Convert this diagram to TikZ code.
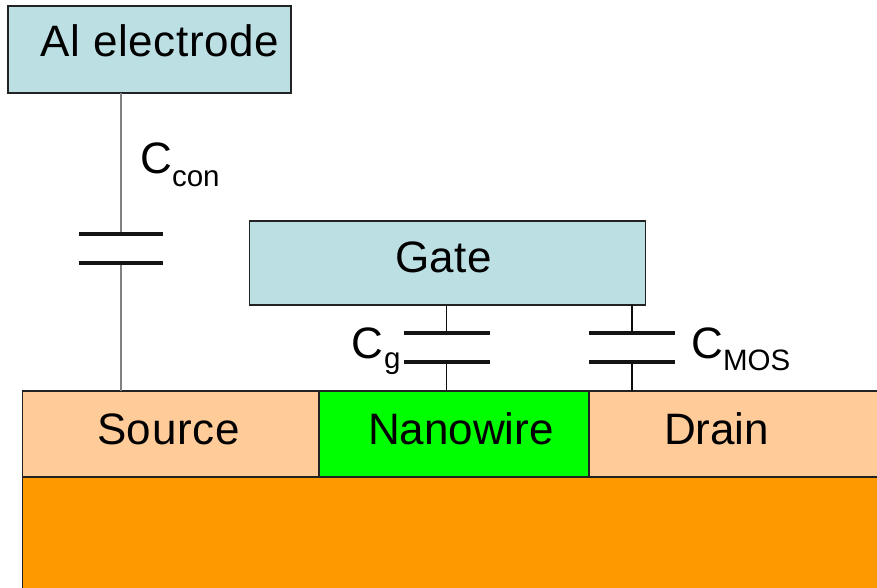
\documentclass[tikz,border=0pt]{standalone}
\usepackage{fontspec}
\setmainfont{Liberation Sans}
\newfontfamily\spaced[LetterSpace=1.4]{Liberation Sans}
\definecolor{boxblue}{HTML}{BBDFE3}
\definecolor{contact}{HTML}{FFCC99}
\definecolor{wire}{HTML}{00FF00}
\definecolor{substrate}{HTML}{FF9900}
\definecolor{edgec}{HTML}{222222}
\newcommand{\bigtxt}{\fontsize{44}{44}\selectfont}
\newcommand{\subtxt}{\fontsize{29.5}{30}\selectfont}
\tikzset{
  x=1pt,y=-1pt,
  block/.style={draw=edgec,line width=1.2pt,inner sep=0pt,outer sep=0pt,anchor=north west},
  lbl/.style={inner sep=0pt,outer sep=0pt,anchor=base west,text=black},
  plate/.style={line width=4pt,black!92},
  lead/.style={line width=1.7pt,black!95},
  greylead/.style={line width=2.8pt,black!50},
}
\newcommand{\capsym}[5]{%
  \coordinate (#1t) at (#2,#4);
  \coordinate (#1b) at (#2,#5);
  \coordinate (#1tl) at (#2-#3,#4);
  \coordinate (#1tr) at (#2+#3,#4);
  \coordinate (#1bl) at (#2-#3,#5);
  \coordinate (#1br) at (#2+#3,#5);
}
\begin{document}
\begin{tikzpicture}
\useasboundingbox (0,0) rectangle (877,588);
\clip (0,0) rectangle (877,588);
\fill[white] (0,0) rectangle (877,588);
\node[block,fill=substrate,minimum width=880pt,minimum height=120pt] (sub) at (22.5,477) {};
\node[block,fill=contact,minimum width=296.5pt,minimum height=86pt] (source) at (22.5,391) {};
\node[block,fill=wire,minimum width=270pt,minimum height=86pt] (wire) at (319,391) {};
\node[block,fill=contact,minimum width=300pt,minimum height=86pt] (drain) at (589,391) {};
\node[block,fill=boxblue,minimum width=283pt,minimum height=87pt] (al) at (8,6) {};
\node[block,fill=boxblue,minimum width=396pt,minimum height=84pt] (gate) at (249.5,221) {};
\capsym{a}{121}{42}{234}{263}
\capsym{g}{446.5}{43}{333}{362}
\capsym{m}{632}{43}{333}{362}
\draw[greylead] (al.south -| at) -- (at);
\draw[greylead] (ab) -- (source.north -| ab);
\draw[lead] (gate.south -| gt) -- (gt);
\draw[lead] (gb) -- (wire.north -| gb);
\draw[lead] (gate.south -| mt) -- (mt);
\draw[lead] (mb) -- (drain.north -| mb);
\draw[plate] (atl) -- (atr);
\draw[plate] (abl) -- (abr);
\draw[plate] (gtl) -- (gtr);
\draw[plate] (gbl) -- (gbr);
\draw[plate] (mtl) -- (mtr);
\draw[plate] (mbl) -- (mbr);
\node[lbl] (talc) at (40.5,57) {\spaced\bigtxt Al electrode};
\node[lbl] (tgate) at (395,272) {\spaced\bigtxt Gate};
\node[lbl] (tsource) at (97,444) {\spaced\bigtxt Source};
\node[lbl] (twire) at (368,444) {\bigtxt Nanowire};
\node[lbl] (tdrain) at (664,444) {\bigtxt Drain};
\node[lbl] (tccon) at (140,173) {\bigtxt C};
\node[lbl] (tccons) at (172,186) {\subtxt con};
\node[lbl] (tcg) at (351.5,358) {\bigtxt C};
\node[lbl] (tcgs) at (384,368) {\subtxt g};
\node[lbl] (tcm) at (691,358) {\bigtxt C};
\node[lbl] (tcms) at (723,370) {\subtxt MOS};
\end{tikzpicture}
\end{document}
